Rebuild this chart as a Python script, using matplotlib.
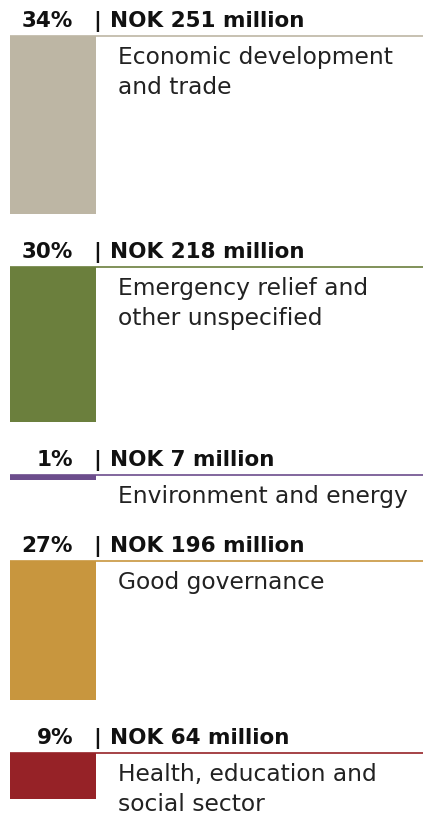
import matplotlib
matplotlib.use("Agg")
import matplotlib.pyplot as plt

# Allocation by sector (NOK million and share of total)
sectors = [
    "Economic development\nand trade",
    "Emergency relief and\nother unspecified",
    "Environment and energy",
    "Good governance",
    "Health, education and\nsocial sector",
]
shares = [34, 30, 1, 27, 9]
amounts = [251, 218, 7, 196, 64]
colors = ["#bdb6a4", "#6b7f3d", "#6c4d8c", "#c8963e", "#962227"]

W, H = 423, 817
PX_PER_M = 0.71            # vertical scale: pixels per NOK million
fig = plt.figure(figsize=(W / 100, H / 100), dpi=100)
ax = fig.add_axes([0, 0, 1, 1])
ax.set_xlim(0, W)
ax.set_ylim(H / PX_PER_M, 0)   # y axis in NOK million, growing downward
ax.axis("off")

px = 1 / PX_PER_M          # one pixel in y units
y = 36 * px                # top rule of the first block
bar_x, bar_w = 10, 86
gap = 53 * px
line_h = 33 * px

for name, pct, amt, col in zip(sectors, shares, amounts, colors):
    # coloured rule across the block
    ax.plot([bar_x, W], [y, y], color=col, lw=1.2, solid_capstyle="butt")
    # bar whose height is the amount
    ax.bar(bar_x, amt, bottom=y, width=bar_w, align="edge", color=col, lw=0)
    # header
    base = y - 9 * px
    hdr = dict(va="baseline", fontsize=15.5, fontweight="bold", color="#111111")
    ax.text(73, base, f"{pct}%", ha="right", **hdr)
    ax.text(97, base, "|", ha="center", **hdr)
    ax.text(110, base, f"NOK {amt} million", ha="left", **hdr)
    # category label
    ax.text(118, y + 10 * px, name, ha="left", va="top", fontsize=16.8,
            color="#222222", linespacing=1.4)
    y += max(amt, line_h) + gap

fig.savefig("out.png", dpi=100, facecolor="white")
